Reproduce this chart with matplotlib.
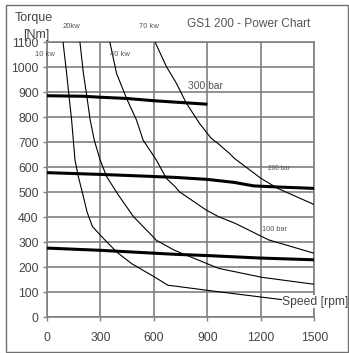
import matplotlib
matplotlib.use("Agg")
import matplotlib.pyplot as plt
from matplotlib.patches import Rectangle

plt.rcParams['font.family'] = ['Liberation Sans', 'DejaVu Sans']

# Axis ticks
x_ticks = [0, 300, 600, 900, 1200, 1500]
y_ticks = [0, 100, 200, 300, 400, 500, 600, 700, 800, 900, 1000, 1100]

# Constant-power curves (speed [rpm], torque [Nm])
rpm_10kw = [90, 110, 123, 138, 157, 176, 204, 225, 255, 316, 390, 474, 604, 679, 716, 897, 1313, 1500]
nm_10kw = [1100, 977, 887, 790, 629, 562, 482, 420, 362, 315, 261, 214, 160, 127, 124, 107, 70, 63]

rpm_20kw = [185, 204, 223, 242, 265, 298, 335, 400, 485, 586, 614, 716, 962, 1205, 1500]
nm_20kw = [1100, 977, 887, 790, 709, 629, 562, 489, 402, 328, 307, 267, 195, 159, 131]

rpm_40kw = [353, 390, 446, 502, 539, 614, 670, 719, 744, 894, 962, 1056, 1206, 1243, 1500]
nm_40kw = [1100, 976, 876, 789, 709, 628, 555, 522, 501, 428, 402, 375, 322, 309, 255]

rpm_70kw = [607, 670, 726, 782, 856, 922, 959, 1024, 1052, 1201, 1295, 1500]
nm_70kw = [1100, 1003, 936, 856, 775, 715, 695, 655, 635, 555, 515, 450]

# Pressure-limited torque lines
rpm_300bar = [0, 200, 300, 450, 600, 900]
nm_300bar = [886, 884, 880, 875, 866, 852]

rpm_200bar = [0, 300, 550, 720, 900, 1050, 1160, 1280, 1500]
nm_200bar = [578, 571, 564, 559, 551, 539, 525, 521, 515]

rpm_100bar = [0, 300, 720, 900, 1200, 1500]
nm_100bar = [276, 267, 251, 246, 236, 229]

W, H = 349, 353
fig = plt.figure(figsize=(W / 100, H / 100), dpi=100)
fig.patch.set_facecolor('white')

# Outer frame
fig.patches.append(Rectangle((6 / W, 1 - 351.5 / H), 342 / W, 346.5 / H,
                             transform=fig.transFigure, fill=False,
                             edgecolor='#707070', lw=1.0))

ax = fig.add_axes([47 / W, 1 - 317 / H, (314.3 - 47) / W, (317 - 42.3) / H])
ax.set_xlim(0, 1500)
ax.set_ylim(0, 1100)
ax.set_xticks(x_ticks)
ax.set_yticks(y_ticks)
ax.grid(True, color='#808080', lw=1.2, zorder=0)
for s in ax.spines.values():
    s.set_color('#808080')
    s.set_linewidth(1.2)
ax.tick_params(axis='both', direction='out', length=3, width=1.0, color='#808080',
               labelsize=8.7, labelcolor='#444444')
ax.tick_params(axis='x', pad=8)
ax.tick_params(axis='y', pad=3)

thin = dict(color='black', lw=0.8, zorder=3)
for xs, ys in [(rpm_10kw, nm_10kw), (rpm_20kw, nm_20kw), (rpm_40kw, nm_40kw), (rpm_70kw, nm_70kw)]:
    ax.plot(xs, ys, **thin)

thick = dict(color='black', lw=2.2, zorder=4, solid_capstyle='butt')
for xs, ys in [(rpm_300bar, nm_300bar), (rpm_200bar, nm_200bar), (rpm_100bar, nm_100bar)]:
    ax.plot(xs, ys, **thick)

gray = '#555555'
ax.text(792, 926, '300 bar', fontsize=7.4, color=gray, va='center', ha='left', zorder=5)
ax.text(1242, 595, '200 bar', fontsize=4.7, color=gray, va='center', ha='left', zorder=5)
ax.text(1206, 349, '100 bar', fontsize=5.3, color=gray, va='center', ha='left', zorder=5)
ax.text(1318, 61, 'Speed [rpm]', fontsize=8.7, color='#444444', va='center', ha='left',
        zorder=6, clip_on=False,
        bbox=dict(facecolor='white', edgecolor='none', pad=0.3))

def ftext(px, py, s, **kw):
    fig.text(px / W, 1 - py / H, s, **kw)

ftext(15, 18, 'Torque', fontsize=9, color='#444444', va='center', ha='left')
ftext(23, 35, '[Nm]', fontsize=9, color='#444444', va='center', ha='left')
ftext(186.7, 24, 'GS1 200 - Power Chart', fontsize=8.6, color=gray, va='center', ha='left')
ftext(63, 27, '20kw', fontsize=5.5, color=gray, va='center', ha='left')
ftext(139, 27, '70 kw', fontsize=5.5, color=gray, va='center', ha='left')
ftext(35, 55, '10 kw', fontsize=5.5, color=gray, va='center', ha='left')
ftext(110, 55, '40 kw', fontsize=5.5, color=gray, va='center', ha='left')

fig.savefig('out.png', dpi=100)
